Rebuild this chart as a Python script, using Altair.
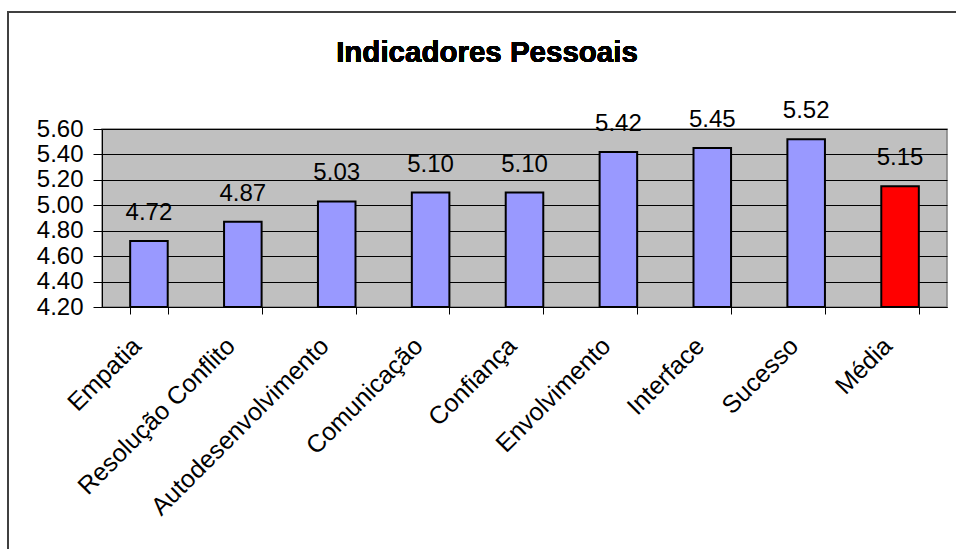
import altair as alt
import pandas as pd

categories = ["Empatia", "Resolução Conflito", "Autodesenvolvimento", "Comunicação",
              "Confiança", "Envolvimento", "Interface", "Sucesso", "Média"]
values = [4.72, 4.87, 5.03, 5.10, 5.10, 5.42, 5.45, 5.52, 5.15]
kinds = ["item"] * 8 + ["media"]
y_ticks = [4.2, 4.4, 4.6, 4.8, 5.0, 5.2, 5.4, 5.6]
title_text = "Indicadores Pessoais"

df = pd.DataFrame({"cat": categories, "val": values, "kind": kinds})

FONT = "Liberation Sans"
W, H = 845, 178

x_scale = alt.Scale(domain=categories, paddingInner=0.6, paddingOuter=0.3)
y_scale = alt.Scale(domain=[4.2, 5.6], nice=False, zero=False)

x_axis = alt.Axis(title=None, labelAngle=-45, labelFontSize=25, labelFont=FONT,
                  labelColor="black", labelPadding=19, labelOffset=-21,
                  tickBand="extent",
                  tickColor="black", tickSize=7, domainColor="black",
                  labelLimit=400, labelOverlap=False, grid=False)
y_axis = alt.Axis(title=None, values=y_ticks,
                  format=".2f", labelFontSize=24, labelFont=FONT, labelColor="black",
                  tickColor="black", tickSize=9, labelPadding=10, labelOverlap=False,
                  domainColor="black", grid=True, gridColor="black",
                  gridWidth=1, gridOpacity=1)

x_enc = alt.X("cat:N", sort=categories, scale=x_scale, axis=x_axis)
y_enc = alt.Y("val:Q", scale=y_scale, axis=y_axis)

bars = alt.Chart(df).mark_bar(stroke="black", strokeWidth=2, clip=True).encode(
    x=x_enc, y=y_enc, y2=alt.datum(4.2),
    color=alt.Color("kind:N", scale=alt.Scale(domain=["item", "media"],
                                               range=["#9999FF", "#FF0000"]), legend=None),
)

labels = alt.Chart(df).mark_text(fontSize=24, font=FONT, color="black", dy=-21,
                                 baseline="alphabetic").encode(
    x=x_enc, y=y_enc, text=alt.Text("val:Q", format=".2f"))

frame = alt.Chart(df).mark_rect(filled=False, fillOpacity=0, stroke="#404040",
                                strokeWidth=1.5, clip=False).encode(
    x=alt.value(-94), x2=alt.value(870), y=alt.value(-117), y2=alt.value(440))

title = alt.Chart(df).mark_text(font=FONT, fontSize=29.5, fontWeight="bold", color="black",
                                baseline="alphabetic", align="center").encode(
    x=alt.value(385), y=alt.value(-67), text=alt.value(title_text))

chart = alt.layer(frame, bars, labels, title).properties(
    width=W, height=H,
    autosize=alt.AutoSizeParams(type="none"),
    padding={"left": 102, "top": 129, "right": 9, "bottom": 242},
).configure(background="white").configure_view(fill="#C0C0C0", stroke="#808080", strokeWidth=1.5)

chart.save("out.html", embed_options={"renderer": "svg", "actions": False})
